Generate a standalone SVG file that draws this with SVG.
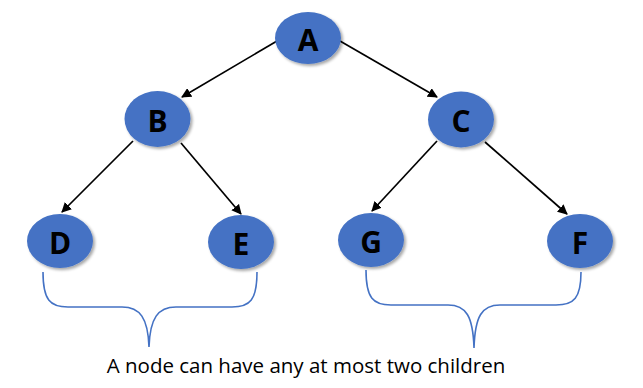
<svg xmlns="http://www.w3.org/2000/svg" width="643" height="388" viewBox="0 0 643 388">
  <defs>
    <marker id="arrow" viewBox="0 0 10 10" refX="9" refY="5" markerWidth="10" markerHeight="10" markerUnits="userSpaceOnUse" orient="auto">
      <path d="M0,0 L10,5 L0,10 z" fill="#000"/>
    </marker>
    <filter id="shadow" x="-20%" y="-20%" width="150%" height="150%">
      <feGaussianBlur in="SourceAlpha" stdDeviation="1.5"/>
      <feOffset dx="2" dy="2" result="b"/>
      <feComponentTransfer><feFuncA type="linear" slope="0.35"/></feComponentTransfer>
      <feMerge><feMergeNode/><feMergeNode in="SourceGraphic"/></feMerge>
    </filter>
  </defs>
  <style>
    .node ellipse { fill: #4472C4; filter: url(#shadow); }
    .node text { font-family: "Open Sans", "Liberation Sans", sans-serif; font-weight: bold; font-size: 30px; fill: #000; text-anchor: middle; dominant-baseline: central; }
    .edge { stroke: #000; stroke-width: 1.7; fill: none; marker-end: url(#arrow); }
    .brace { stroke: #4472C4; stroke-width: 1.6; fill: none; }
    .caption { font-family: "Open Sans", "Liberation Sans", sans-serif; font-size: 20.5px; fill: #000; text-anchor: middle; }
  </style>
  <rect width="643" height="388" fill="#fff"/>

  <g id="connectors">
    <line class="edge" x1="277" y1="41" x2="182" y2="97"/>
    <line class="edge" x1="340" y1="41" x2="437" y2="97"/>
    <line class="edge" x1="133" y1="141" x2="62" y2="212"/>
    <line class="edge" x1="181" y1="143" x2="241" y2="214"/>
    <line class="edge" x1="437" y1="141" x2="372" y2="211"/>
    <line class="edge" x1="485" y1="142" x2="567" y2="214"/>
  </g>

  <g id="node-A" class="node"><ellipse cx="308" cy="38" rx="33" ry="26"/><text x="308" y="39">A</text></g>
  <g id="node-B" class="node"><ellipse cx="157.5" cy="119" rx="33" ry="28"/><text x="157.5" y="120">B</text></g>
  <g id="node-C" class="node"><ellipse cx="461" cy="119.5" rx="33" ry="28"/><text x="461" y="120.5">C</text></g>
  <g id="node-D" class="node"><ellipse cx="60" cy="241" rx="33" ry="27"/><text x="60" y="242">D</text></g>
  <g id="node-E" class="node"><ellipse cx="241" cy="242" rx="33" ry="27"/><text x="241" y="243">E</text></g>
  <g id="node-G" class="node"><ellipse cx="371" cy="240" rx="33" ry="27"/><text x="371" y="241">G</text></g>
  <g id="node-F" class="node"><ellipse cx="580" cy="241" rx="33" ry="27"/><text x="580" y="242">F</text></g>

  <g id="braces">
    <path class="brace" d="M43,272 C43,300 50,307 68,307 L122,307 C140,307 148,318 149,347 C150,318 158,307 176,307 L232,307 C250,307 257,300 257,272"/>
    <path class="brace" d="M366,270 C366,298 373,305 391,305 L448,305 C466,305 473,316 474,348 C475,316 482,305 500,305 L556,305 C574,305 581,298 581,272"/>
  </g>

  <text class="caption" x="306" y="373">A node can have any at most two children</text>
</svg>
